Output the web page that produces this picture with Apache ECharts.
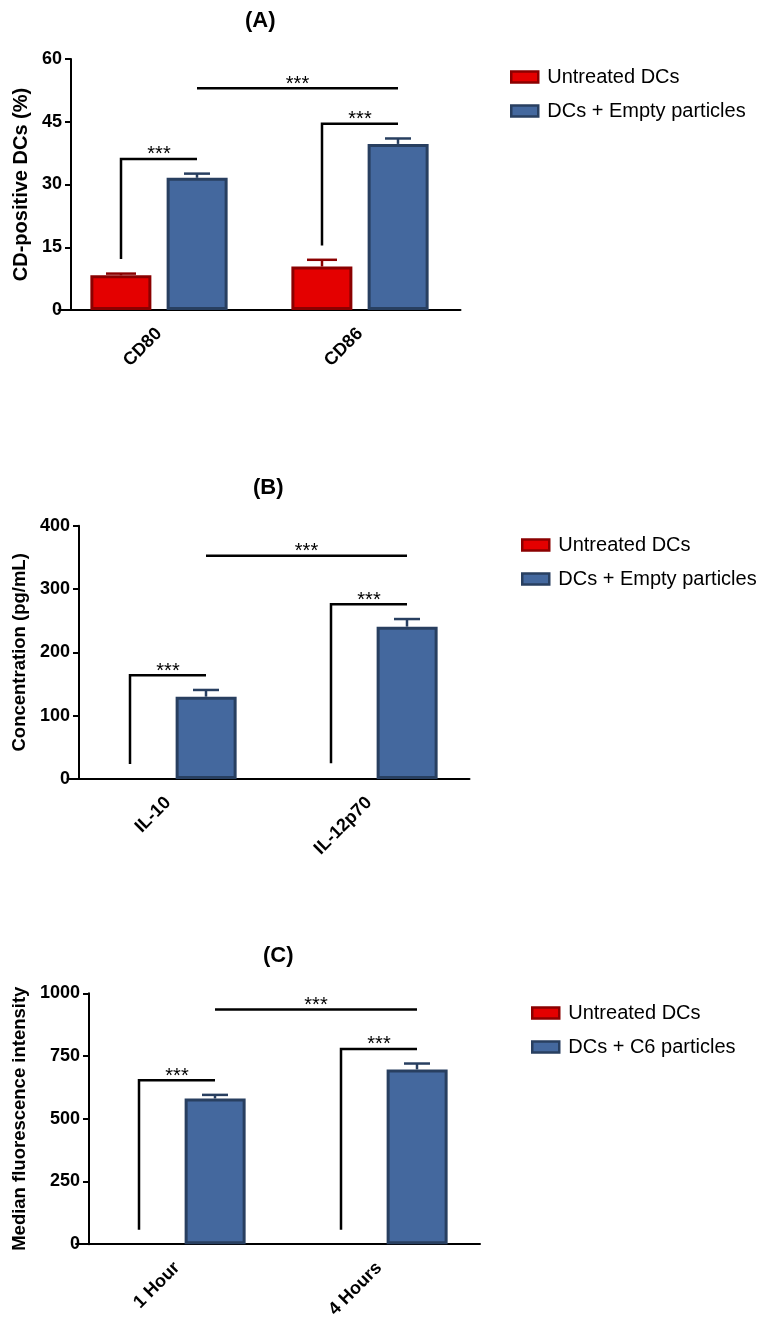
<!DOCTYPE html>
<html>
<head>
<meta charset="utf-8">
<script src="https://cdn.jsdelivr.net/npm/echarts@6/dist/echarts.min.js"></script>
<style>
html, body { margin: 0; padding: 0; background: #fff; }
#main { width: 769px; height: 1321px; }
</style>
</head>
<body>
<div id="main"></div>
<script>
// panel A - surface markers
var catsA = ['CD80', 'CD86'];
var untreatedA = [8.3, 10.4];
var untreatedErrA = [0.4, 1.6];
var emptyA = [31.6, 39.7];
var emptyErrA = [1.0, 1.3];
var bracketLowA = [12.2, 15.4];
var bracketHighA = [36.1, 44.5];
var spanA = 53.0;

// panel B - cytokines
var catsB = ['IL-10', 'IL-12p70'];
var untreatedB = [0, 0];
var emptyB = [130, 240.6];
var emptyErrB = [10.6, 12.0];
var bracketLowB = [23.7, 24.7];
var bracketHighB = [164, 276];
var spanB = 352.7;

// panel C - uptake
var catsC = ['1 Hour', '4 Hours'];
var untreatedC = [0, 0];
var c6C = [580.5, 696.5];
var c6ErrC = [14.5, 23.5];
var bracketLowC = [57, 57];
var bracketHighC = [653, 778];
var spanC = 935;

var FONT = '"Liberation Sans", Arial, sans-serif';
var RED = '#E40000', RED_EDGE = '#8B0000';
var BLUE = '#44689E', BLUE_EDGE = '#283F60';
var HALF = 38; // half the distance between the two bar centres of a group

function barData(vals) {
    return vals.map(function(v) {
        return v === 0 ? { value: 0, itemStyle: { borderWidth: 0 } } : v;
    });
}

function barSeries(idx, name, vals, color, edge) {
    return {
        name: name,
        type: 'bar',
        xAxisIndex: idx,
        yAxisIndex: idx,
        barWidth: 61,
        barGap: '25%',
        data: barData(vals),
        itemStyle: { color: color, borderColor: edge, borderWidth: 3 },
        silent: true
    };
}

function errSeries(idx, means, errs, side, color, cap) {
    return {
        type: 'custom',
        xAxisIndex: idx,
        yAxisIndex: idx,
        z: 5,
        silent: true,
        data: means.map(function(m, i) { return [i, m, errs[i]]; }),
        encode: { x: 0, y: 1 },
        renderItem: function(params, api) {
            var base = api.coord([api.value(0), api.value(1)]);
            var top = api.coord([api.value(0), api.value(1) + api.value(2)]);
            var x = base[0] + side * HALF;
            return {
                type: 'group',
                children: [
                    { type: 'line', shape: { x1: x, y1: base[1], x2: x, y2: top[1] }, style: { stroke: color, lineWidth: 2.5 } },
                    { type: 'line', shape: { x1: x - cap / 2, y1: top[1], x2: x + cap / 2, y2: top[1] }, style: { stroke: color, lineWidth: 2.5 } }
                ]
            };
        }
    };
}

function stars(x, y) {
    return {
        type: 'text',
        style: { x: x, y: y - 4, text: '***', font: '20px ' + FONT, fill: '#000', align: 'center', verticalAlign: 'middle' }
    };
}

function bracketSeries(idx, lows, highs) {
    return {
        type: 'custom',
        xAxisIndex: idx,
        yAxisIndex: idx,
        z: 6,
        silent: true,
        clip: false,
        data: lows.map(function(l, i) { return [i, l, highs[i]]; }),
        encode: { x: 0, y: [1, 2] },
        renderItem: function(params, api) {
            var lo = api.coord([api.value(0), api.value(1)]);
            var hi = api.coord([api.value(0), api.value(2)]);
            var x1 = lo[0] - HALF, x2 = lo[0] + HALF;
            return {
                type: 'group',
                children: [
                    { type: 'polyline', shape: { points: [[x1, lo[1]], [x1, hi[1]], [x2, hi[1]]] }, style: { stroke: '#000', lineWidth: 2.5, fill: null } },
                    stars((x1 + x2) / 2, hi[1])
                ]
            };
        }
    };
}

function spanSeries(idx, level) {
    return {
        type: 'custom',
        xAxisIndex: idx,
        yAxisIndex: idx,
        z: 6,
        silent: true,
        clip: false,
        data: [[0, 1, level]],
        encode: { x: [0, 1], y: 2 },
        renderItem: function(params, api) {
            var a = api.coord([api.value(0), api.value(2)]);
            var b = api.coord([api.value(1), api.value(2)]);
            var x1 = a[0] + HALF, x2 = b[0] + HALF;
            return {
                type: 'group',
                children: [
                    { type: 'line', shape: { x1: x1, y1: a[1], x2: x2, y2: a[1] }, style: { stroke: '#000', lineWidth: 2.5 } },
                    stars((x1 + x2) / 2, a[1])
                ]
            };
        }
    };
}

function xAxisOf(idx, cats) {
    return {
        type: 'category',
        gridIndex: idx,
        data: cats,
        axisLine: { lineStyle: { color: '#000', width: 2 } },
        axisTick: { alignWithLabel: true, length: 5, lineStyle: { width: 2, color: '#000' } },
        axisLabel: { rotate: 45, interval: 0, margin: 21, color: '#000', fontSize: 18, fontWeight: 'bold', fontFamily: FONT },
        splitLine: { show: false }
    };
}

function yAxisOf(idx, max, interval, name, nameSize, nameGap, offset) {
    return {
        type: 'value',
        gridIndex: idx,
        min: 0,
        max: max,
        interval: interval,
        offset: offset,
        name: name,
        nameLocation: 'middle',
        nameGap: nameGap,
        nameTextStyle: { color: '#000', fontSize: nameSize, fontWeight: 'bold', fontFamily: FONT },
        axisLine: { show: true, lineStyle: { color: '#000', width: 2 } },
        axisTick: { show: true, length: 6, lineStyle: { width: 2, color: '#000' } },
        axisLabel: {
            margin: 9, color: '#000', fontSize: 18, fontWeight: 'bold', fontFamily: FONT,
            formatter: function(v) { return String(v); }
        },
        splitLine: { show: false }
    };
}

function legendOf(left, top, names) {
    return {
        orient: 'vertical',
        left: left,
        top: top,
        icon: 'rect',
        itemWidth: 27,
        itemHeight: 11,
        itemGap: 14,
        itemStyle: { borderWidth: 2.5 },
        selectedMode: false,
        textStyle: { color: '#000', fontSize: 20, fontFamily: FONT, padding: [0, 0, 0, 4] },
        data: names
    };
}

function titleOf(text, left, top) {
    return {
        text: text,
        left: left,
        top: top,
        padding: 0,
        textStyle: { color: '#000', fontSize: 22, fontWeight: 'bold', fontFamily: FONT }
    };
}

var chart = echarts.init(document.getElementById('main'), null, { renderer: 'canvas' });

var option = {
    backgroundColor: '#fff',
    animation: false,
    title: [
        titleOf('(A)', 245, 10),
        titleOf('(B)', 253, 477),
        titleOf('(C)', 263, 945)
    ],
    legend: [
        legendOf(505, 62, ['Untreated DCs', 'DCs + Empty particles']),
        legendOf(516, 530, ['Untreated DCs', 'DCs + Empty particles']),
        legendOf(526, 998, ['Untreated DCs', 'DCs + C6 particles'])
    ],
    grid: [
        { left: 58.5, top: 59, width: 402, height: 251 },
        { left: 67.5, top: 525.7, width: 402, height: 253.3 },
        { left: 76, top: 993.3, width: 404, height: 252.7 }
    ],
    xAxis: [xAxisOf(0, catsA), xAxisOf(1, catsB), xAxisOf(2, catsC)],
    yAxis: [
        yAxisOf(0, 60, 15, 'CD-positive DCs (%)', 20, 37, -12.5),
        yAxisOf(1, 400, 100, 'Concentration (pg/mL)', 18.5, 46, -11.5),
        yAxisOf(2, 1000, 250, 'Median fluorescence intensity', 18.5, 56, -13)
    ],
    series: [
        barSeries(0, 'Untreated DCs', untreatedA, RED, RED_EDGE),
        barSeries(0, 'DCs + Empty particles', emptyA, BLUE, BLUE_EDGE),
        errSeries(0, untreatedA, untreatedErrA, -1, RED_EDGE, 30),
        errSeries(0, emptyA, emptyErrA, 1, BLUE_EDGE, 26),
        bracketSeries(0, bracketLowA, bracketHighA),
        spanSeries(0, spanA),

        barSeries(1, 'Untreated DCs', untreatedB, RED, RED_EDGE),
        barSeries(1, 'DCs + Empty particles', emptyB, BLUE, BLUE_EDGE),
        errSeries(1, emptyB, emptyErrB, 1, BLUE_EDGE, 26),
        bracketSeries(1, bracketLowB, bracketHighB),
        spanSeries(1, spanB),

        barSeries(2, 'Untreated DCs', untreatedC, RED, RED_EDGE),
        barSeries(2, 'DCs + C6 particles', c6C, BLUE, BLUE_EDGE),
        errSeries(2, c6C, c6ErrC, 1, BLUE_EDGE, 26),
        bracketSeries(2, bracketLowC, bracketHighC),
        spanSeries(2, spanC)
    ]
};

chart.setOption(option);
</script>
</body>
</html>
